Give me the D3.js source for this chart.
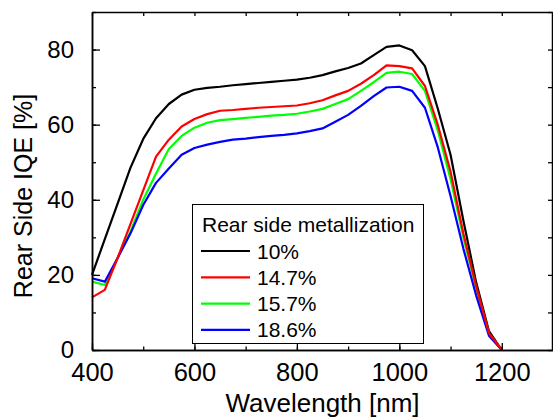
<!DOCTYPE html>
<html>
<head>
<meta charset="utf-8">
<script src="https://cdn.jsdelivr.net/npm/d3@7"></script>
<style>
  html, body { margin: 0; padding: 0; background: #fff; }
  svg { display: block; font-family: "Liberation Sans", Arial, sans-serif; }
</style>
</head>
<body>
<svg id="chart" width="553" height="418"></svg>
<script>
// Wavelength grid (nm)
const wavelengths = [400, 425, 450, 475, 500, 525, 550, 575, 600, 625, 650, 675, 700, 725, 750, 775, 800,
  825, 850, 875, 900, 925, 950, 975, 1000, 1025, 1050, 1075, 1100, 1125, 1150, 1175, 1200];

// Rear side IQE (%) for each rear metallization fraction
const iqe10 = [20, 29.5, 39, 48.5, 56.2, 61.7, 65.5, 68, 69.3, 69.8, 70.1, 70.5, 70.8, 71.1, 71.4, 71.7, 72,
  72.5, 73.2, 74.2, 75.1, 76.3, 78.5, 80.7, 81.1, 79.8, 75.6, 64.3, 52, 34.5, 18, 5, 0];
const iqe147 = [14, 16, 24.5, 33.5, 42.5, 51.5, 56, 59.5, 61.5, 62.8, 63.7, 63.9, 64.2, 64.5, 64.7, 64.9, 65.1,
  65.7, 66.5, 67.8, 69, 70.9, 73.2, 75.8, 75.6, 75, 70.3, 60, 47.5, 31, 17, 4.5, 0];
const iqe157 = [18.2, 17.3, 24.5, 31.5, 40, 47, 53.5, 57, 59.2, 60.5, 61.2, 61.5, 61.8, 62.1, 62.4, 62.6, 62.9,
  63.5, 64.2, 65.5, 66.8, 69, 71.3, 73.8, 74.1, 73.5, 69, 58.5, 45.5, 30, 16.5, 4.3, 0];
const iqe186 = [19.1, 18.2, 24.5, 31, 38.6, 44.5, 48.3, 52, 53.8, 54.7, 55.4, 56, 56.3, 56.7, 57, 57.3, 57.7,
  58.3, 59, 60.8, 62.6, 65, 67.6, 69.9, 70.1, 69, 64.5, 54, 41, 27, 14.5, 3.8, 0];

const seriesLabels = ["10%", "14.7%", "15.7%", "18.6%"];
const seriesColors = ["#000000", "#ff0000", "#00ff00", "#0000ff"];
const seriesValues = [iqe10, iqe147, iqe157, iqe186];

const xTicks = [400, 600, 800, 1000, 1200];
const yTicks = [0, 20, 40, 60, 80];

const svg = d3.select("#chart");
const plotLeft = 92, plotRight = 553, plotTop = 12, plotBottom = 350;

const x = d3.scaleLinear().domain([400, 1300]).range([plotLeft, plotRight]);
const y = d3.scaleLinear().domain([0, 90]).range([plotBottom, plotTop]);

// Curves, red drawn last so it sits on top where they overlap
const drawOrder = [0, 2, 3, 1];
const line = d3.line().x(d => x(d[0])).y(d => y(d[1]));
drawOrder.forEach(i => {
  const pts = wavelengths.map((w, k) => [w, seriesValues[i][k]]);
  svg.append("path")
    .datum(pts)
    .attr("d", line)
    .attr("fill", "none")
    .attr("stroke", seriesColors[i])
    .attr("stroke-width", 2.2)
    .attr("stroke-linejoin", "round");
});

// Axes: ticks point into the plot on all four sides
const xMinor = d3.range(400, 1301, 100);
const yMinor = d3.range(0, 91, 10);
const fmt = d3.format("d");

function styleAxis(g) {
  g.select(".domain").attr("stroke", "#000").attr("stroke-width", 1.5);
  g.selectAll(".tick line").attr("stroke", "#000").attr("stroke-width", 1.3);
}

// Bottom
svg.append("g").attr("transform", `translate(0,${plotBottom})`)
  .call(d3.axisBottom(x).tickValues(xMinor).tickSize(-3.5).tickFormat("").tickSizeOuter(0))
  .call(styleAxis);
svg.append("g").attr("transform", `translate(0,${plotBottom})`)
  .call(d3.axisBottom(x).tickValues(xTicks).tickSize(-7).tickPadding(13).tickFormat(fmt).tickSizeOuter(0))
  .call(styleAxis)
  .call(g => g.selectAll(".tick text").attr("font-size", 25.5).attr("fill", "#000")
    .attr("font-family", "'Liberation Sans', Arial, sans-serif"));

// Top
svg.append("g").attr("transform", `translate(0,${plotTop})`)
  .call(d3.axisTop(x).tickValues(xMinor).tickSize(-4).tickFormat("").tickSizeOuter(0))
  .call(styleAxis);

// Left
svg.append("g").attr("transform", `translate(${plotLeft},0)`)
  .call(d3.axisLeft(y).tickValues(yMinor).tickSize(-4).tickFormat("").tickSizeOuter(0))
  .call(styleAxis);
svg.append("g").attr("transform", `translate(${plotLeft},0)`)
  .call(d3.axisLeft(y).tickValues(yTicks).tickSize(-8).tickPadding(18).tickFormat(fmt).tickSizeOuter(0))
  .call(styleAxis)
  .call(g => g.selectAll(".tick text").attr("font-size", 24).attr("fill", "#000")
    .attr("font-family", "'Liberation Sans', Arial, sans-serif"));

// Right
svg.append("g").attr("transform", `translate(${plotRight - 1},0)`)
  .call(d3.axisRight(y).tickValues(yMinor).tickSize(-4).tickFormat("").tickSizeOuter(0))
  .call(styleAxis);

// Axis titles
svg.append("text")
  .attr("x", (plotLeft + plotRight) / 2)
  .attr("y", 412)
  .attr("text-anchor", "middle")
  .attr("font-size", 26)
  .text("Wavelength [nm]");

svg.append("text")
  .attr("transform", "translate(32,196) rotate(-90)")
  .attr("text-anchor", "middle")
  .attr("font-size", 25)
  .text("Rear Side IQE [%]");

// Legend
const legend = svg.append("g");
legend.append("rect")
  .attr("x", 192.5).attr("y", 204.5)
  .attr("width", 231).attr("height", 139)
  .attr("fill", "#fff").attr("stroke", "#000").attr("stroke-width", 1);
legend.append("text")
  .attr("x", 202).attr("y", 232)
  .attr("font-size", 21)
  .text("Rear side metallization");
seriesLabels.forEach((lab, i) => {
  const ly = 251 + i * 26.3;
  legend.append("line")
    .attr("x1", 201).attr("x2", 250)
    .attr("y1", ly).attr("y2", ly)
    .attr("stroke", seriesColors[i]).attr("stroke-width", 2.2);
  legend.append("text")
    .attr("x", 257).attr("y", ly + 7.5)
    .attr("font-size", 21)
    .text(lab);
});
</script>
</body>
</html>
